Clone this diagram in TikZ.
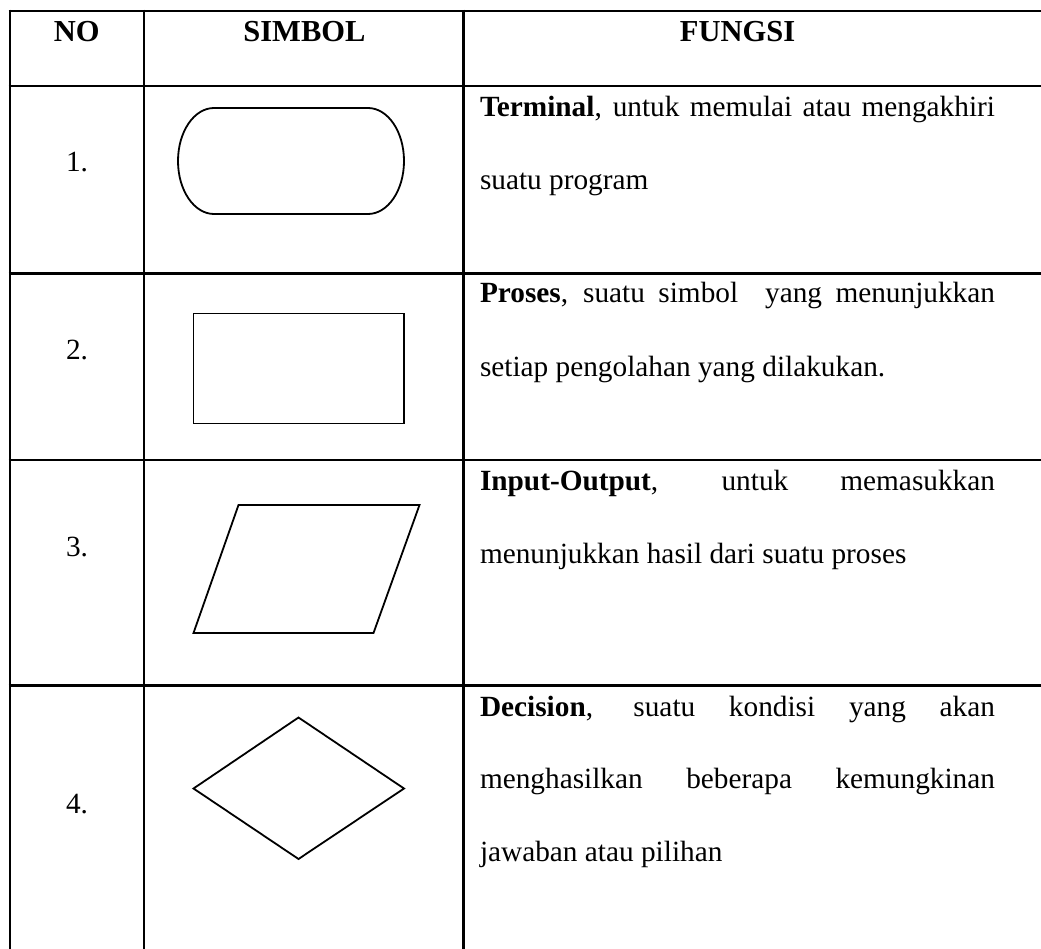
\documentclass[tikz,border=0pt]{standalone}
\usepackage{fontspec}
\setmainfont{Liberation Serif}
\begin{document}
\begin{tikzpicture}[x=1pt,y=-1pt,
  rule/.style={line width=2.6pt},
  symb/.style={line width=1.8pt,line join=miter},
  txt/.style={inner sep=0pt,outer sep=0pt,anchor=base west,
    font=\fontsize{29.3}{36}\selectfont},
  num/.style={inner sep=0pt,outer sep=0pt,anchor=base,
    font=\fontsize{29.3}{36}\selectfont},
  head/.style={inner sep=0pt,outer sep=0pt,anchor=base,
    font=\fontsize{30.5}{36}\selectfont\bfseries}]
\def\tw{515pt}
\useasboundingbox (0,0) rectangle (1041,949);
\clip (0,0) rectangle (1041,949);

% table rules
\foreach \yy in {11,86,273.3,460,685.7}
  \draw[rule] (8.7,\yy) -- (1060,\yy);
\foreach \xx in {10,144,463.3}
  \draw[rule] (\xx,9.7) -- (\xx,980);

% header
\node[head] (hno)  at (76.7,42) {NO};
\node[head] (hsym) at (304.4,42) {SIMBOL};
\node[head] (hfun) at (737.5,42) {FUNGSI};

% row numbers
\node[num] (n1) at (77,171.5) {1.};
\node[num] (n2) at (77,359.5) {2.};
\node[num] (n3) at (77,556) {3.};
\node[num] (n4) at (77,813) {4.};

% terminal
\draw[symb] (214,108) -- (368,108)
  .. controls (387.9,108) and (404,131.7) .. (404,161)
  .. controls (404,190.3) and (387.9,214) .. (368,214)
  -- (214,214)
  .. controls (194.1,214) and (178,190.3) .. (178,161)
  .. controls (178,131.7) and (194.1,108) .. cycle;
% process
\draw[symb] (193.5,313.5) rectangle (404,423.5);
% input-output
\draw[symb] (238.5,505) -- (419.5,505) -- (373.5,633) -- (193.5,633) -- cycle;
% decision
\draw[symb] (298.5,717.5) -- (404,788.5) -- (298.5,859) -- (193.5,788.5) -- cycle;

% descriptions
\node[txt] (t1a) at (480,116.5) {\makebox[\tw][s]{\textbf{Terminal}, untuk memulai atau mengakhiri}};
\node[txt] (t1b) at (480,190) {suatu program};
\node[txt] (t2a) at (480,303) {\makebox[\tw][s]{\textbf{Proses}, suatu simbol \ yang menunjukkan}};
\node[txt] (t2b) at (480,376.5) {setiap pengolahan yang dilakukan.};
\node[txt] (t3a) at (480,490) {\makebox[\tw][s]{\textbf{Input-Output}, untuk memasukkan}};
\node[txt] (t3b) at (480,563) {menunjukkan hasil dari suatu proses};
\node[txt] (t4a) at (480,716.5) {\makebox[\tw][s]{\textbf{Decision}, suatu kondisi yang akan}};
\node[txt] (t4b) at (480,788.5) {\makebox[\tw][s]{menghasilkan beberapa kemungkinan}};
\node[txt] (t4c) at (480,861.5) {jawaban atau pilihan};
\end{tikzpicture}
\end{document}
